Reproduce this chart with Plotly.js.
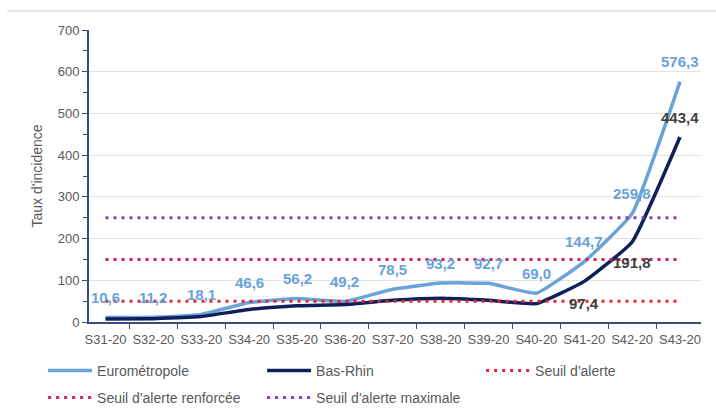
<!DOCTYPE html>
<html><head><meta charset="utf-8">
<script src="https://cdn.plot.ly/plotly-3.0.1.min.js"></script>
<style>html,body{margin:0;padding:0;background:#fff}#chart{width:716px;height:412px}</style>
</head><body><div id="chart"></div>
<script>
const categories = ["S31-20","S32-20","S33-20","S34-20","S35-20","S36-20","S37-20","S38-20","S39-20","S40-20","S41-20","S42-20","S43-20"];
const eurometropole = [10.6, 11.2, 18.1, 46.6, 56.2, 49.2, 78.5, 93.2, 92.7, 69.0, 144.7, 259.8, 576.3];
const basRhin = [7, 8, 13, 30, 39, 42, 52, 57, 52, 44, 97.4, 191.8, 443.4];
const seuilAlerte = [50,50,50,50,50,50,50,50,50,50,50,50,50];
const seuilRenforcee = [150,150,150,150,150,150,150,150,150,150,150,150,150];
const seuilMaximale = [250,250,250,250,250,250,250,250,250,250,250,250,250];
const basRhinLabelIdx = [10, 11, 12];
const basRhinLabelShift = [-22, -21, 20];

const fmt = v => v.toFixed(1).replace('.', ',');
const FONT = "Liberation Sans, Arial, sans-serif";
const cEuro = '#6aa2da', cBR = '#0f1f5a';

const dotted = (y, name, color, leg) => ({
  x: categories, y: y, name: name, type: 'scatter', mode: 'lines', legend: leg,
  line: {color: color, width: 3, dash: '3px,5px'}, hoverinfo: 'skip'
});

const traces = [
  {x: categories, y: eurometropole, name: 'Eurométropole', type: 'scatter', mode: 'lines', legend: 'legend',
   line: {color: cEuro, width: 3.5, shape: 'spline', smoothing: 0.35}},
  {x: categories, y: basRhin, name: 'Bas-Rhin', type: 'scatter', mode: 'lines', legend: 'legend',
   line: {color: cBR, width: 3.5, shape: 'spline', smoothing: 0.35}},
  dotted(seuilAlerte, "Seuil d'alerte", '#e3262f', 'legend'),
  dotted(seuilRenforcee, "Seuil d'alerte renforcée", '#d61f52', 'legend2'),
  dotted(seuilMaximale, "Seuil d'alerte maximale", '#7f45b8', 'legend2')
];

const annotations = [];
eurometropole.forEach((v, i) => annotations.push({
  x: categories[i], y: v, xref: 'x', yref: 'y', text: fmt(v), showarrow: false,
  yshift: 20, font: {family: FONT, size: 15, color: cEuro, weight: 'bold'}
}));
basRhinLabelIdx.forEach((i, k) => annotations.push({
  x: categories[i], y: basRhin[i], xref: 'x', yref: 'y', text: fmt(basRhin[i]), showarrow: false,
  yshift: basRhinLabelShift[k], font: {family: FONT, size: 15, color: '#404040', weight: 'bold'}
}));

const legendBase = {
  orientation: 'h', xref: 'paper', yref: 'paper', x: -0.075,
  xanchor: 'left', yanchor: 'top', entrywidth: 160, itemwidth: 44, traceorder: 'normal',
  font: {family: FONT, size: 14, color: '#595959'}, itemclick: false, bgcolor: 'rgba(0,0,0,0)'
};

const layout = {
  width: 716, height: 412,
  margin: {l: 89, r: 15, t: 30, b: 90, autoexpand: false},
  paper_bgcolor: '#fff', plot_bgcolor: '#fff',
  font: {family: FONT, size: 13, color: '#595959'},
  showlegend: true,
  xaxis: {
    type: 'category', tickson: 'boundaries', ticks: 'outside', ticklen: 5, tickcolor: '#3b4a82',
    showline: true, linecolor: '#3b4a82', linewidth: 2, showgrid: false, tickangle: 0,
    ticklabelstandoff: 4,
    tickfont: {family: FONT, size: 13, color: '#595959'}, fixedrange: true
  },
  yaxis: {
    range: [0, 700], dtick: 100, ticks: 'outside', ticklen: 5, tickcolor: '#3b4a82',
    minor: {dtick: 50, ticks: 'outside', ticklen: 4, tickcolor: '#3b4a82', showgrid: false},
    showline: true, linecolor: '#3b4a82', linewidth: 2,
    showgrid: true, gridcolor: '#e3e3e3', gridwidth: 1, zeroline: false,
    tickfont: {family: FONT, size: 13, color: '#595959'},
    title: {text: "Taux d'incidence", font: {family: FONT, size: 14, color: '#595959'}, standoff: 12}
  },
  legend: Object.assign({}, legendBase, {y: -0.113}),
  legend2: Object.assign({}, legendBase, {y: -0.205}),
  shapes: [{type: 'line', xref: 'paper', yref: 'paper', x0: -0.134, x1: 1.03, y0: 1.065, y1: 1.065,
            line: {color: '#d0d0d0', width: 1}}],
  annotations: annotations
};

Plotly.newPlot('chart', traces, layout, {staticPlot: true, displayModeBar: false});
</script></body></html>
